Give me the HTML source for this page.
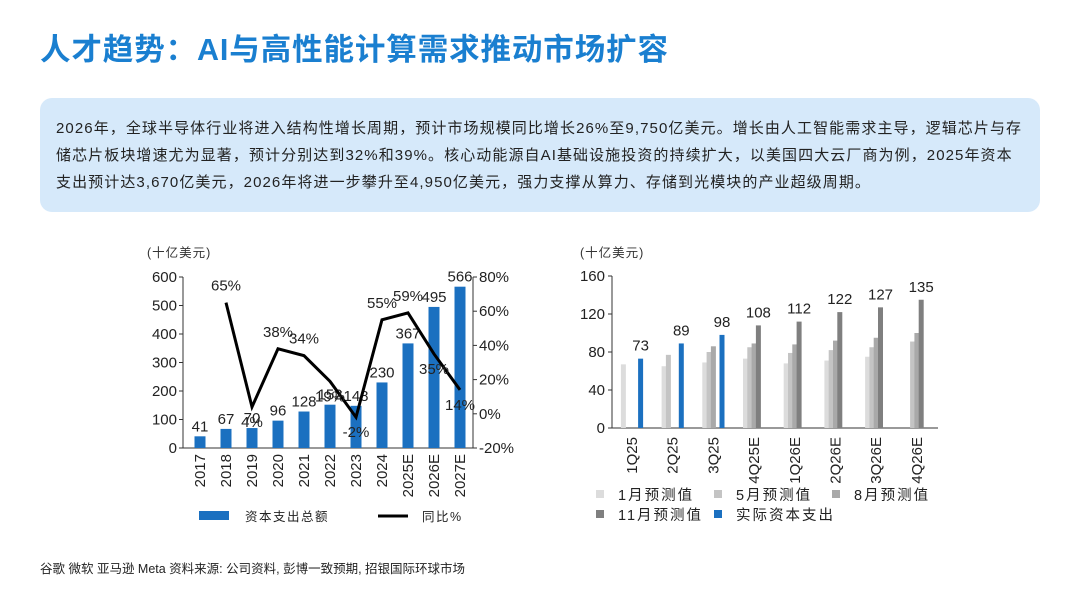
<!DOCTYPE html>
<html><head><meta charset="utf-8">
<style>
body{margin:0;width:1080px;height:608px;background:#fff;font-family:"Liberation Sans","Noto Sans CJK SC",sans-serif;position:relative;overflow:hidden}
#title{position:absolute;left:40px;top:25px;font-size:30.5px;font-weight:bold;color:#1a7fd0;letter-spacing:0.9px;white-space:nowrap}
#box{position:absolute;left:40px;top:98px;width:1000px;height:114px;background:#d6e9fa;border-radius:12px}
#box p{margin:0;position:absolute;left:16px;top:17px;width:990px;font-size:15px;line-height:27px;color:#222;letter-spacing:1.08px;white-space:nowrap}
#src{position:absolute;left:40px;top:558px;font-size:12.5px;color:#222}
svg{position:absolute;left:0;top:0}
svg text{font-family:"Liberation Sans","Noto Sans CJK SC",sans-serif}
</style></head><body>
<div id="title">人才趋势：AI与高性能计算需求推动市场扩容</div>
<div id="box"><p>2026年，全球半导体行业将进入结构性增长周期，预计市场规模同比增长26%至9,750亿美元。增长由人工智能需求主导，逻辑芯片与存<br>储芯片板块增速尤为显著，预计分别达到32%和39%。核心动能源自AI基础设施投资的持续扩大，以美国四大云厂商为例，2025年资本<br>支出预计达3,670亿美元，2026年将进一步攀升至4,950亿美元，强力支撑从算力、存储到光模块的产业超级周期。</p></div>
<svg id="chart" width="1080" height="608"></svg>
<div id="src">谷歌 微软 亚马逊 Meta 资料来源: 公司资料, 彭博一致预期, 招银国际环球市场</div>
<script>
const years=["2017","2018","2019","2020","2021","2022","2023","2024","2025E","2026E","2027E"];
const capex=[41,67,70,96,128,152,148,230,367,495,566];
const growth=[null,65,4,38,34,19,-2,55,59,35,14];
const leftTicks=[0,100,200,300,400,500,600];
const rightTicks=[-20,0,20,40,60,80];
const quarters=["1Q25","2Q25","3Q25","4Q25E","1Q26E","2Q26E","3Q26E","4Q26E"];
const janEst=[67,65,69,73,68,71,75,null];
const mayEst=[null,77,80,85,79,82,85,91];
const augEst=[null,null,86,89,88,92,95,100];
const novEst=[null,null,null,108,112,122,127,135];
const actual=[73,89,98,null,null,null,null,null];
const qTicks=[0,40,80,120,160];

const svg=document.getElementById('chart');const NS='http://www.w3.org/2000/svg';
function mk(t,a,txt){const e=document.createElementNS(NS,t);for(const k in a)e.setAttribute(k,a[k]);if(txt!=null)e.textContent=txt;svg.appendChild(e);return e;}
const L={x0:183,x1:473,yb:448,yt:277};
const ly=v=>L.yb-(v/600)*(L.yb-L.yt);
const ry=v=>L.yb-((v+20)/100)*(L.yb-L.yt);
const lx=i=>200+i*26;
let e=mk('text',{x:147,y:257,'font-size':12.5,fill:'#333','letter-spacing':1},'(十亿美元)');

mk('line',{x1:L.x0,y1:L.yt,x2:L.x0,y2:L.yb,stroke:'#333'});
mk('line',{x1:L.x0,y1:L.yb,x2:L.x1,y2:L.yb,stroke:'#333'});
mk('line',{x1:L.x1,y1:L.yt,x2:L.x1,y2:L.yb,stroke:'#333'});
leftTicks.forEach(v=>{mk('line',{x1:L.x0-4,y1:ly(v),x2:L.x0,y2:ly(v),stroke:'#333'});
 const t=mk('text',{x:L.x0-6,y:ly(v)+5,'font-size':15,'text-anchor':'end',fill:'#222'},v);
 });
rightTicks.forEach(v=>{mk('line',{x1:L.x1,y1:ry(v),x2:L.x1+4,y2:ry(v),stroke:'#333'});
 const t=mk('text',{x:L.x1+6,y:ry(v)+5,'font-size':15,fill:'#222'},v+'%');
 });
years.forEach((y,i)=>{
 const b=mk('rect',{x:lx(i)-5.5,y:ly(capex[i]),width:11,height:L.yb-ly(capex[i]),fill:'#1b70c0'});
 
 const t=mk('text',{x:lx(i),y:ly(capex[i])-5,'font-size':15,'text-anchor':'middle',fill:'#222'},capex[i]);
 
 const xl=mk('text',{x:0,y:0,'font-size':15,'text-anchor':'end',fill:'#222',transform:`translate(${lx(i)+5},${L.yb+6}) rotate(-90)`},y);
 
});
let pts=[];growth.forEach((g,i)=>{if(g!=null)pts.push(lx(i)+','+ry(g));});
e=mk('polyline',{points:pts.join(' '),fill:'none',stroke:'#000','stroke-width':3});

growth.forEach((g,i)=>{if(g==null)return;
 const up=[1,3,4,7,8].includes(i);
 const t=mk('text',{x:lx(i),y:up?ry(g)-12:ry(g)+20,'font-size':15,'text-anchor':'middle',fill:'#222'},g+'%');
 });
e=mk('rect',{x:199,y:511,width:30,height:9,fill:'#1b70c0'});
e=mk('text',{x:245,y:521,'font-size':12.5,fill:'#222','letter-spacing':1.5},'资本支出总额');
e=mk('line',{x1:378,y1:516,x2:408,y2:516,stroke:'#000','stroke-width':3});
e=mk('text',{x:422,y:521,'font-size':12.5,fill:'#222','letter-spacing':1.5},'同比%');
const R={x0:612,x1:938,yb:428,yt:276};
const qy=v=>R.yb-(v/160)*(R.yb-R.yt);
const qx=i=>632+i*40.7;
e=mk('text',{x:580,y:257,'font-size':12.5,fill:'#333','letter-spacing':1},'(十亿美元)');
mk('line',{x1:R.x0,y1:R.yt,x2:R.x0,y2:R.yb,stroke:'#333'});
mk('line',{x1:R.x0,y1:R.yb,x2:R.x1,y2:R.yb,stroke:'#333'});
qTicks.forEach(v=>{mk('line',{x1:R.x0-4,y1:qy(v),x2:R.x0,y2:qy(v),stroke:'#333'});
 const t=mk('text',{x:R.x0-7,y:qy(v)+5,'font-size':15,'text-anchor':'end',fill:'#222'},v);
 });
const series=[[janEst,'#dcdcdc','jan-est-bar'],[mayEst,'#c4c4c4','may-est-bar'],[augEst,'#a9a9a9','aug-est-bar'],[novEst,'#7f7f7f','nov-est-bar'],[actual,'#1b70c0','actual-bar']];
quarters.forEach((q,i)=>{
 series.forEach((s,k)=>{const v=s[0][i];if(v==null)return;
  const b=mk('rect',{x:qx(i)-11+(k-2)*4.3+8.5,y:qy(v),width:5,height:R.yb-qy(v),fill:s[1]});
  });
 const top=novEst[i]!=null?novEst[i]:actual[i];
 const bx=qx(i)-11+(novEst[i]!=null?1:2)*4.3+8.5+2.5;
 const t=mk('text',{x:bx,y:qy(top)-8,'font-size':15,'text-anchor':'middle',fill:'#222'},top);
 
 const xl=mk('text',{x:0,y:0,'font-size':15,'text-anchor':'end',fill:'#222',transform:`translate(${qx(i)+5},${R.yb+9}) rotate(-90)`},q);
 
});
const leg=[['1月预测值','#dcdcdc',596,500],['5月预测值','#c4c4c4',714,500],['8月预测值','#a9a9a9',832,500],['11月预测值','#7f7f7f',596,520],['实际资本支出','#1b70c0',714,520]];
leg.forEach(l=>{const r=mk('rect',{x:l[2],y:l[3]-10,width:8,height:8,fill:l[1]});
 
 const t=mk('text',{x:l[2]+22,y:l[3],'font-size':14.5,fill:'#222','letter-spacing':2},l[0]);
 });
</script>
</body></html>
